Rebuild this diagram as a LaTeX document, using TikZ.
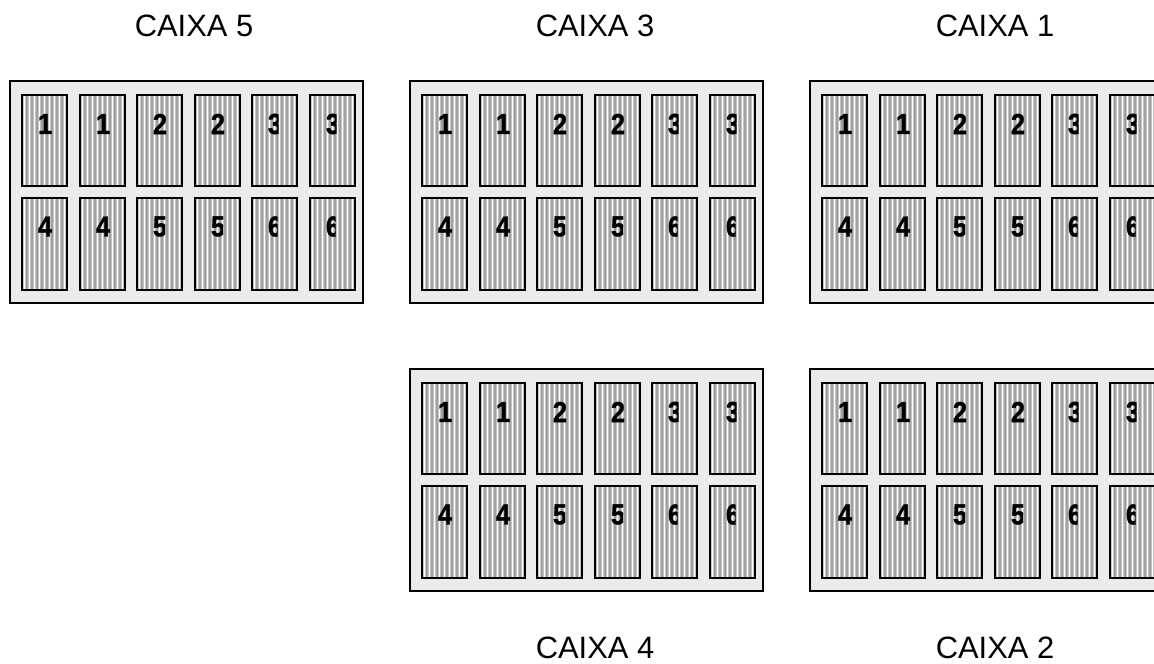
\documentclass[tikz,border=0pt]{standalone}
\usepackage{fontspec}
\setmainfont{Liberation Sans}
\newfontfamily\heavydigits[FakeBold=1.3]{Liberation Sans Bold}
\definecolor{trayfill}{HTML}{EBEBEB}
\definecolor{cellbase}{HTML}{C4C4C4}
\definecolor{stripedark}{HTML}{A2A2A2}
\tikzset{
  tray/.style={draw=black, line width=2.4bp, fill=trayfill},
  cellframe/.style={draw=black, line width=1.6bp},
  stripelight/.style={draw=white, line width=1.2bp},
  stripedk/.style={draw=stripedark, line width=2bp},
  digit/.style={inner sep=0pt, xscale=0.88, font=\fontsize{29}{29}\heavydigits},
  boxlabel/.style={inner sep=0pt, anchor=base, font=\fontsize{31}{31}\selectfont}
}
% one tray with two rows of six slots; #1,#2 = top-left corner, #3 = name
\newcommand\drawtray[3]{%
  \draw[tray] (#1,#2) rectangle ++(353,222);
  \foreach \r/\dy/\h/\ty in {0/14/91/29,1/117/92/28.5}{%
    \foreach \c in {0,...,5}{%
      \pgfmathsetmacro\cx{round(#1+12+57.6*\c)}%
      \pgfmathsetmacro\cy{#2+\dy}%
      \pgfmathtruncatemacro\num{\r*3+int(\c/2)+1}%
      \fill[cellbase] (\cx,\cy) rectangle ++(45,\h);
      \foreach \k in {0,...,8}{%
        \draw[stripelight] (\cx+2.5+5*\k,\cy) -- ++(0,\h);
        \draw[stripedk] (\cx+5+5*\k,\cy) -- ++(0,\h);
      }
      \begin{scope}
        \ifnum\num=3 \clip (\cx,\cy) rectangle (\cx+26.5,\cy+\h);\fi
        \ifnum\num=5 \clip (\cx,\cy) rectangle (\cx+28,\cy+\h);\fi
        \ifnum\num=6 \clip (\cx,\cy) rectangle (\cx+25.5,\cy+\h);\fi
        \node[digit] (#3-\r-\c) at (\cx+23,\cy+\ty) {\num};
      \end{scope}
      \draw[cellframe] (\cx,\cy) rectangle ++(45,\h);
    }
  }
}
\begin{document}
\begin{tikzpicture}[x=1bp,y=-1bp]
  \clip (0,0) rectangle (1154,664);
  \fill[white] (0,0) rectangle (1154,664);

  \drawtray{10}{81}{cx5}
  \drawtray{410}{81}{cx3}
  \drawtray{810}{81}{cx1}
  \drawtray{410}{369}{cx4}
  \drawtray{810}{369}{cx2}

  \node[boxlabel] (lab5) at (194,37) {CAIXA 5};
  \node[boxlabel] (lab3) at (595,37) {CAIXA 3};
  \node[boxlabel] (lab1) at (995,37) {CAIXA 1};
  \node[boxlabel] (lab4) at (595,658) {CAIXA 4};
  \node[boxlabel] (lab2) at (995,658) {CAIXA 2};
\end{tikzpicture}
\end{document}
